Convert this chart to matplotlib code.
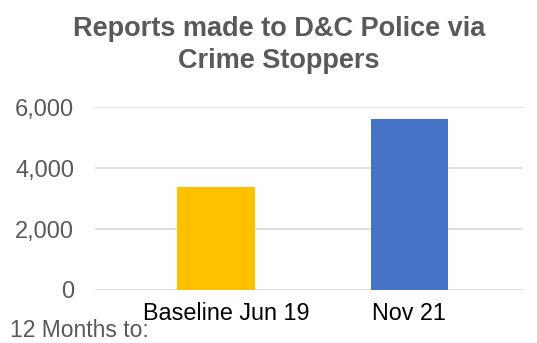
import matplotlib
matplotlib.use("Agg")
import matplotlib.pyplot as plt
import matplotlib.transforms as mtransforms
from matplotlib.ticker import FuncFormatter

plt.rcParams["font.family"] = ["Liberation Sans", "DejaVu Sans"]

# data
categories = ["Baseline Jun 19", "Nov 21"]
reports = [3380, 5620]
bar_colors = ["#FFC000", "#4472C4"]

fig = plt.figure(figsize=(5.37, 3.43), dpi=100)
ax = fig.add_axes([95 / 537, 1 - 290 / 343, (523 - 95) / 537, (290 - 107.3) / 343])

ax.bar(range(len(categories)), reports, width=0.4, color=bar_colors, zorder=3)
ax.set_xlim(-0.625, 1.587)
ax.set_ylim(0, 6000)
ax.set_yticks([0, 2000, 4000, 6000])
ax.yaxis.set_major_formatter(FuncFormatter(lambda v, p: f"{int(v):,}"))
ax.set_xticks(range(len(categories)))
ax.set_xticklabels(categories, fontsize=16.8, color="black")
ax.tick_params(axis="y", labelsize=17, colors="#595959", length=0, pad=15)
ax.tick_params(axis="x", length=0, pad=9)
ax.grid(axis="y", color="#D9D9D9", linewidth=1.2, zorder=0)
for s in ax.spines.values():
    s.set_visible(False)

# first label sits a little right of its bar in the original
lbl = ax.get_xticklabels()[0]
lbl.set_transform(lbl.get_transform() + mtransforms.ScaledTranslation(0.1, 0, fig.dpi_scale_trans))

fig.text(279 / 537, 1 - 45.5 / 343, "Reports made to D&C Police via\nCrime Stoppers",
         ha="center", va="center", fontsize=19.5, fontweight="bold",
         color="#595959", linespacing=1.3)
fig.text(10 / 537, 1 - 337 / 343, "12 Months to:", fontsize=16.5, color="#595959",
         va="baseline", ha="left")

fig.savefig("out.png", dpi=100)
